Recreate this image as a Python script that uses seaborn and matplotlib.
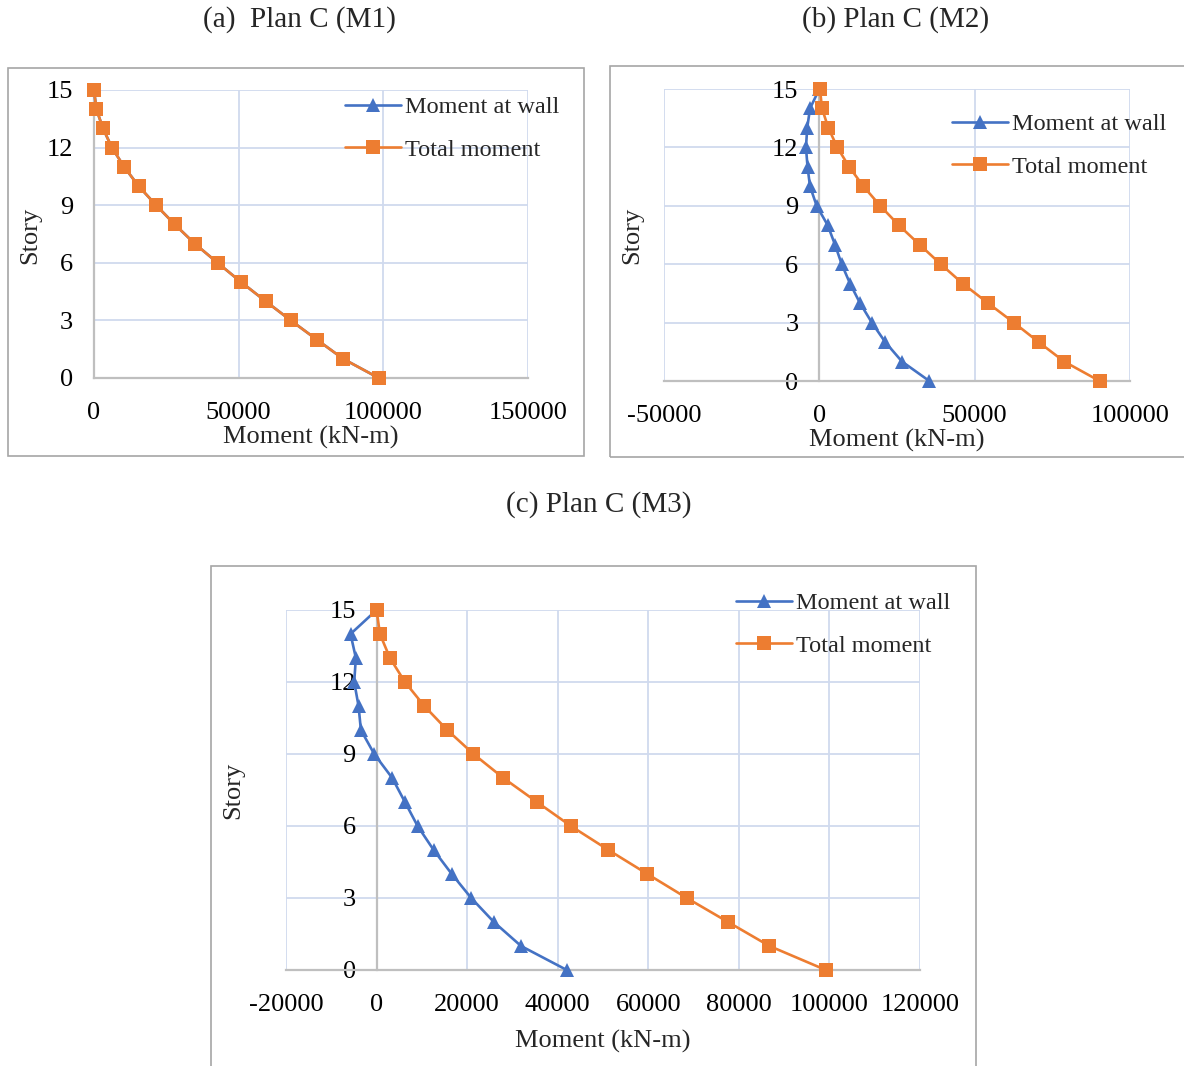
import numpy as np
import pandas as pd
import matplotlib
matplotlib.use("Agg")
import matplotlib.pyplot as plt
from matplotlib.patches import Rectangle
import seaborn as sns

# ---------------- data ----------------
stories = list(range(15, -1, -1))  # 15 ... 0

# (a) Plan C (M1) - wall moment coincides with total moment
m1_wall = [0, 830, 3100, 6200, 10400, 15400, 21450, 27900, 34800, 42700, 50800, 59300, 68000, 77000, 86100, 98400]
m1_total = [0, 830, 3100, 6200, 10400, 15400, 21450, 27900, 34800, 42700, 50800, 59300, 68000, 77000, 86100, 98400]

# (b) Plan C (M2)
m2_wall = [0, -3000, -3900, -4300, -3800, -3000, -860, 2700, 5050, 7200, 9900, 13100, 16900, 21200, 26600, 35400]
m2_total = [200, 860, 2900, 5800, 9600, 14200, 19600, 25600, 32300, 39100, 46200, 54300, 62600, 70600, 78800, 90200]

# (c) Plan C (M3)
m3_wall = [0, -5750, -4570, -4940, -3980, -3460, -520, 3460, 6260, 9060, 12600, 16600, 20900, 25900, 31900, 42000]
m3_total = [0, 740, 2950, 6260, 10540, 15600, 21400, 28000, 35400, 42900, 51200, 59800, 68500, 77600, 86750, 99200]

titles = ["(a)  Plan C (M1)", "(b) Plan C (M2)", "(c) Plan C (M3)"]
series_names = ["Moment at wall", "Total moment"]
x_label = "Moment (kN-m)"
y_label = "Story"
y_ticks = [0, 3, 6, 9, 12, 15]
x_ticks_a = [0, 50000, 100000, 150000]
x_ticks_b = [-50000, 0, 50000, 100000]
x_ticks_c = [-20000, 0, 20000, 40000, 60000, 80000, 100000, 120000]

# ---------------- style ----------------
sns.set_theme(style="white")
plt.rcParams["font.family"] = ["Liberation Serif", "DejaVu Serif"]

W, H = 1184, 1066
fig = plt.figure(figsize=(W / 100, H / 100), dpi=100)

BLUE = "#4472C4"
ORANGE = "#ED7D31"
GRID = "#D0DAEE"
AXIS = "#BFBFBF"
BORDER = "#A6A6A6"
FS = 19
TFS = 21
LFS = 17.5


def fx(px):
    return px / W


def fy(py):
    return 1 - py / H


def make_df(wall, total):
    return pd.DataFrame({
        "moment": list(wall) + list(total),
        "story": stories + stories,
        "series": [series_names[0]] * len(wall) + [series_names[1]] * len(total),
    })


def panel(rect_px, wall, total, xticks, legend_px, box_px, title, title_px, ylab_px, xlab_px):
    l, r, t, b = rect_px
    ax = fig.add_axes([fx(l), fy(b), fx(r - l), (b - t) / H])
    df = make_df(wall, total)
    sns.lineplot(data=df, x="moment", y="story", hue="series", style="series",
                 hue_order=series_names, style_order=series_names,
                 palette={series_names[0]: BLUE, series_names[1]: ORANGE},
                 markers={series_names[0]: "^", series_names[1]: "s"},
                 dashes=False, sort=False, estimator=None, orient="y",
                 linewidth=1.9, markersize=9.5, markeredgewidth=0,
                 ax=ax, legend=True, clip_on=False, zorder=5)
    for s in ["top", "right"]:
        ax.spines[s].set_visible(False)
    ax.spines["left"].set_position(("data", 0))
    ax.spines["left"].set_color(AXIS)
    ax.spines["left"].set_linewidth(1.6)
    ax.spines["bottom"].set_color(AXIS)
    ax.spines["bottom"].set_linewidth(1.6)
    ax.set_xlim(xticks[0], xticks[-1])
    ax.set_ylim(0, 15)
    ax.set_xticks(xticks)
    ax.set_yticks(y_ticks)
    ax.set_xticklabels([str(v) for v in xticks])
    ax.set_yticklabels([str(v) for v in y_ticks])
    ax.grid(True, color=GRID, linewidth=1.3, zorder=0)
    ax.set_axisbelow(True)
    ax.tick_params(axis="both", direction="out", length=5, width=1.2, color=AXIS,
                   labelcolor="black", labelsize=FS)
    ax.tick_params(axis="x", pad=12)
    ax.tick_params(axis="y", pad=10)
    ax.set_xlabel("")
    ax.set_ylabel("")
    ax.set_facecolor("none")
    handles, labels = ax.get_legend_handles_labels()
    ax.legend(handles, labels, loc="center left",
              bbox_to_anchor=(fx(legend_px[0]), fy(legend_px[1])),
              bbox_transform=fig.transFigure, frameon=False,
              fontsize=LFS, handlelength=2.3, handletextpad=0.15,
              labelspacing=0.85, borderpad=0, borderaxespad=0)
    # border box
    bl, bt, br, bb = box_px
    fig.patches.append(Rectangle((fx(bl), fy(bb)), fx(br - bl), (bb - bt) / H,
                                 transform=fig.transFigure, fill=False,
                                 edgecolor=BORDER, linewidth=1.2, zorder=0))
    fig.text(fx(title_px[0]), fy(title_px[1]), title, ha="center", va="center", fontsize=TFS)
    fig.text(fx(ylab_px[0]), fy(ylab_px[1]), y_label, ha="center", va="center",
             rotation=90, fontsize=FS)
    fig.text(fx(xlab_px[0]), fy(xlab_px[1]), x_label, ha="center", va="center", fontsize=FS)
    return ax


panel((94, 528, 90, 378), m1_wall, m1_total, x_ticks_a, (345, 128.5),
      (8, 68, 584, 456), titles[0], (299, 20), (30, 235), (311, 437))
panel((664, 1130, 89, 381), m2_wall, m2_total, x_ticks_b, (952, 145.5),
      (610, 66, 1190, 457), titles[1], (896, 20), (632, 235), (897, 440))
panel((286, 920, 610, 970), m3_wall, m3_total, x_ticks_c, (736, 624.5),
      (211, 566, 976, 1075), titles[2], (599, 505), (233, 790), (603, 1041))

fig.savefig("out.png", dpi=100, facecolor="white")
